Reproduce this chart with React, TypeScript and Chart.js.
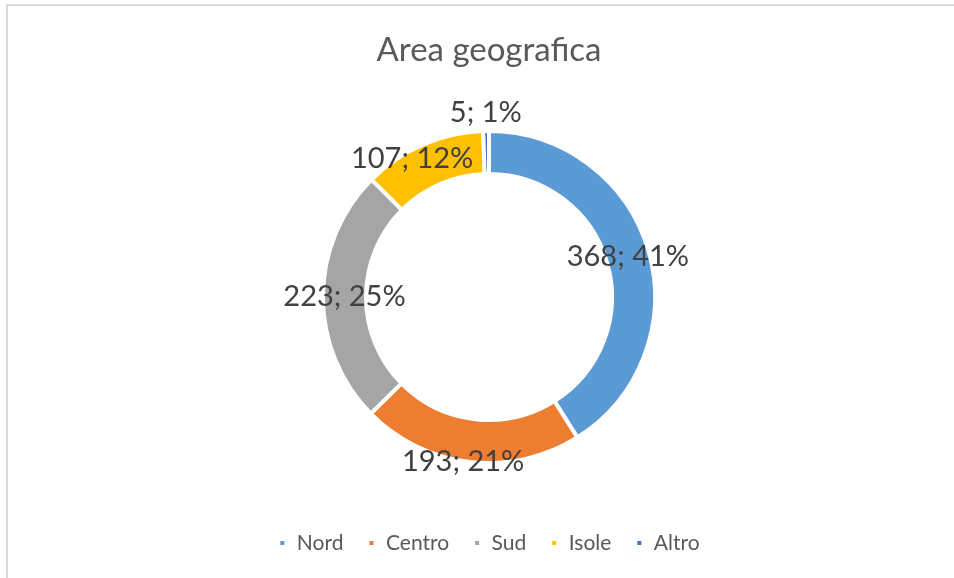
import React, { useEffect, useRef } from "react";
import { Chart, registerables } from "chart.js";

Chart.register(...registerables);

const chartTitle = "Area geografica";
const categories = ["Nord", "Centro", "Sud", "Isole", "Altro"];
const values = [368, 193, 223, 107, 5];
const percentLabels = ["41%", "21%", "25%", "12%", "1%"];
const colors = ["#5B9BD5", "#ED7D31", "#A5A5A5", "#FFC000", "#4472C4"];

// nudges for data labels (style only): radial px and angular degrees
const labelShift = [0, 22, 0, 14, 40];
const labelTurn = [0, 2.3, 0, -5.5, 0];

const labelPlugin = {
  id: "sliceLabels",
  afterDatasetsDraw(chart: any) {
    const meta = chart.getDatasetMeta(0);
    const ctx = chart.ctx;
    ctx.save();
    ctx.font = "29px Lato";
    ctx.fillStyle = "#404040";
    ctx.textAlign = "center";
    ctx.textBaseline = "middle";
    meta.data.forEach((arc: any, i: number) => {
      const p = arc.getProps(["x", "y", "startAngle", "endAngle", "innerRadius", "outerRadius"], true);
      const mid = (p.startAngle + p.endAngle) / 2 + (labelTurn[i] * Math.PI) / 180;
      const r = (p.innerRadius + p.outerRadius) / 2 + labelShift[i];
      ctx.fillText(`${values[i]}; ${percentLabels[i]}`, p.x + Math.cos(mid) * r, p.y + Math.sin(mid) * r);
    });
    ctx.restore();
  },
};

export default function App() {
  const ref = useRef<HTMLCanvasElement>(null);
  useEffect(() => {
    if (!ref.current) return;
    const chart = new Chart(ref.current, {
      type: "doughnut",
      data: {
        labels: categories,
        datasets: [
          {
            data: values,
            backgroundColor: colors,
            borderColor: "#ffffff",
            borderWidth: 4,
          },
        ],
      },
      options: {
        responsive: false,
        animation: false,
        radius: 166,
        cutout: "74.1%",
        layout: { padding: { left: 24, right: 0, top: 0, bottom: 14.5 } },
        plugins: {
          title: {
            display: true,
            text: chartTitle,
            color: "#595959",
            font: { family: "Lato", size: 33, weight: "normal", lineHeight: 1.2 },
            padding: { top: 30.2, bottom: 15.7 },
          },
          legend: {
            display: true,
            position: "bottom",
            labels: {
              color: "#595959",
              font: { family: "Lato", size: 21 },
              boxWidth: 8,
              boxHeight: 8,
              padding: 24,
            },
          },
          tooltip: { enabled: false },
        },
      } as any,
      plugins: [labelPlugin],
    });
    return () => chart.destroy();
  }, []);
  return (
    <div style={{ position: "fixed", left: 0, top: 0, width: 954, height: 578, overflow: "hidden", background: "#fff" }}>
      <div
        style={{
          position: "absolute",
          left: 6,
          top: 4,
          width: 1000,
          height: 700,
          borderTop: "2px solid #d9d9d9",
          borderLeft: "2px solid #d9d9d9",
        }}
      />
      <canvas ref={ref} width={954} height={578} style={{ position: "absolute", left: 0, top: 0, display: "block" }} />
    </div>
  );
}
